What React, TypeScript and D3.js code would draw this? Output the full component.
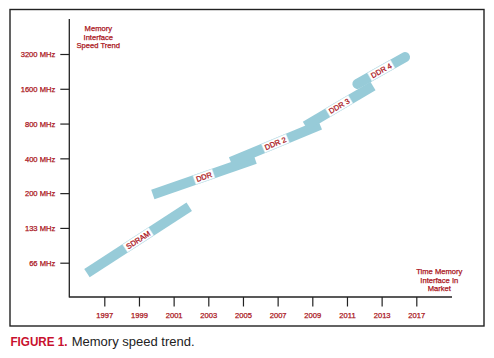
import * as d3 from "d3";
import { useEffect, useRef } from "react";

const yTickLabels = ["66 MHz", "133 MHz", "200 MHz", "400 MHz", "800 MHz", "1600 MHz", "3200 MHz"];
const xTickYears = [1997, 1999, 2001, 2003, 2005, 2007, 2009, 2011, 2013, 2015];
const xTickLabels = ["1997", "1999", "2001", "2003", "2005", "2007", "2009", "2011", "2013", "2017"];

// each band: [year, speed level index] at start and end
const bandNames = ["SDRAM", "DDR", "DDR 2", "DDR 3", "DDR 4"];
const bandStarts = [[1996.0, -0.3], [1999.8, 1.96], [2004.3, 2.9], [2008.6, 3.93], [2011.6, 5.14]];
const bandEnds = [[2001.9, 1.61], [2005.7, 2.98], [2009.45, 3.96], [2012.5, 5.08], [2014.35, 5.91]];

const titleLines = ["Memory", "Interface", "Speed Trend"];
const xTitleLines = ["Time Memory", "Interface In", "Market"];

const RED = "#aa1420";
const BLUE = "#97cbd8";
const FONT = "'Liberation Sans', Arial, sans-serif";

const App = () => {
    const svgRef = useRef(null);

    useEffect(() => {
        if (!svgRef.current) return;
        const svg = d3.select(svgRef.current);
        svg.selectAll("*").remove();

        const x = d3.scaleLinear().domain([1997, 2015]).range([104.3, 416.3]);
        const y = d3.scaleLinear().domain([0, 6]).range([262.7, 54]);

        // outer frame
        svg.append("rect")
            .attr("x", 10).attr("y", 9.5)
            .attr("width", 474).attr("height", 316.5)
            .attr("fill", "none").attr("stroke", "#222").attr("stroke-width", 1.4);

        const axisX0 = 69.3;
        const axisY0 = 297;

        const redText = sel => sel
            .attr("fill", RED)
            .attr("stroke", RED)
            .attr("stroke-width", 0.25)
            .style("font-family", FONT);

        // axes
        const yAxis = svg.append("g")
            .attr("transform", `translate(${axisX0},0)`)
            .call(d3.axisLeft(y)
                .tickValues(d3.range(yTickLabels.length))
                .tickFormat((d, i) => yTickLabels[i])
                .tickSize(9).tickSizeOuter(0).tickPadding(5));
        yAxis.select(".domain").remove();
        yAxis.selectAll("line").attr("stroke", "#222").attr("stroke-width", 1.2);
        yAxis.selectAll("text").call(redText).style("font-size", "7.6px").attr("dy", "0.35em");

        const xAxis = svg.append("g")
            .attr("transform", `translate(0,${axisY0})`)
            .call(d3.axisBottom(x)
                .tickValues(xTickYears)
                .tickFormat((d, i) => xTickLabels[i])
                .tickSize(9.5).tickSizeOuter(0).tickPadding(6));
        xAxis.select(".domain").remove();
        xAxis.selectAll("line").attr("stroke", "#222").attr("stroke-width", 1.2);
        xAxis.selectAll("text").call(redText).style("font-size", "7.6px");

        svg.append("line")
            .attr("x1", axisX0).attr("x2", axisX0)
            .attr("y1", 19).attr("y2", axisY0 + 0.6)
            .attr("stroke", "#222").attr("stroke-width", 1.3);
        svg.append("line")
            .attr("x1", axisX0).attr("x2", 452)
            .attr("y1", axisY0).attr("y2", axisY0)
            .attr("stroke", "#222").attr("stroke-width", 1.3);

        // bands
        const line = d3.line().x(d => x(d[0])).y(d => y(d[1]));
        bandNames.forEach((name, i) => {
            const s = bandStarts[i];
            const e = bandEnds[i];
            svg.append("path")
                .attr("d", line([s, e]))
                .attr("fill", "none")
                .attr("stroke", BLUE)
                .attr("stroke-width", 10)
                .attr("stroke-linecap", i === 4 ? "round" : "butt");

            const x1 = x(s[0]), y1 = y(s[1]), x2 = x(e[0]), y2 = y(e[1]);
            const angle = Math.atan2(y2 - y1, x2 - x1) * 180 / Math.PI;
            const g = svg.append("g")
                .attr("transform", `translate(${(x1 + x2) / 2},${(y1 + y2) / 2}) rotate(${angle})`);
            const rect = g.append("rect");
            const t = g.append("text")
                .attr("text-anchor", "middle")
                .attr("dy", "0.36em")
                .call(redText)
                .style("font-size", "7.5px")
                .text(name);
            const w = (t.node() as SVGTextElement).getComputedTextLength();
            rect.attr("x", -w / 2 - 2).attr("y", -4.6)
                .attr("width", w + 4).attr("height", 9.2)
                .attr("fill", "#fff").attr("stroke", "#d4eaf0").attr("stroke-width", 0.5);
        });

        // titles
        const title = svg.append("text")
            .attr("text-anchor", "middle")
            .call(redText).style("font-size", "7.6px");
        titleLines.forEach((l, i) => {
            title.append("tspan").attr("x", 98.3).attr("y", 30.7 + i * 8.8).text(l);
        });
        const xTitle = svg.append("text")
            .attr("text-anchor", "middle")
            .call(redText).style("font-size", "7.6px");
        xTitleLines.forEach((l, i) => {
            xTitle.append("tspan").attr("x", 439.3).attr("y", 273.7 + i * 8.8).text(l);
        });

        // caption
        svg.append("text")
            .attr("x", 10.5).attr("y", 346)
            .attr("fill", "#c8102e")
            .style("font-family", FONT).style("font-size", "13px").style("font-weight", "bold")
            .attr("textLength", 57).attr("lengthAdjust", "spacingAndGlyphs")
            .text("FIGURE 1.");
        svg.append("text")
            .attr("x", 71.7).attr("y", 346)
            .attr("fill", "#222")
            .style("font-family", FONT).style("font-size", "13px")
            .text("Memory speed trend.");
    }, []);

    return (
        <svg
            ref={svgRef}
            width={494}
            height={358}
            style={{ position: "absolute", left: 0, top: 0, background: "#fff" }}
        />
    );
};

export default App;
